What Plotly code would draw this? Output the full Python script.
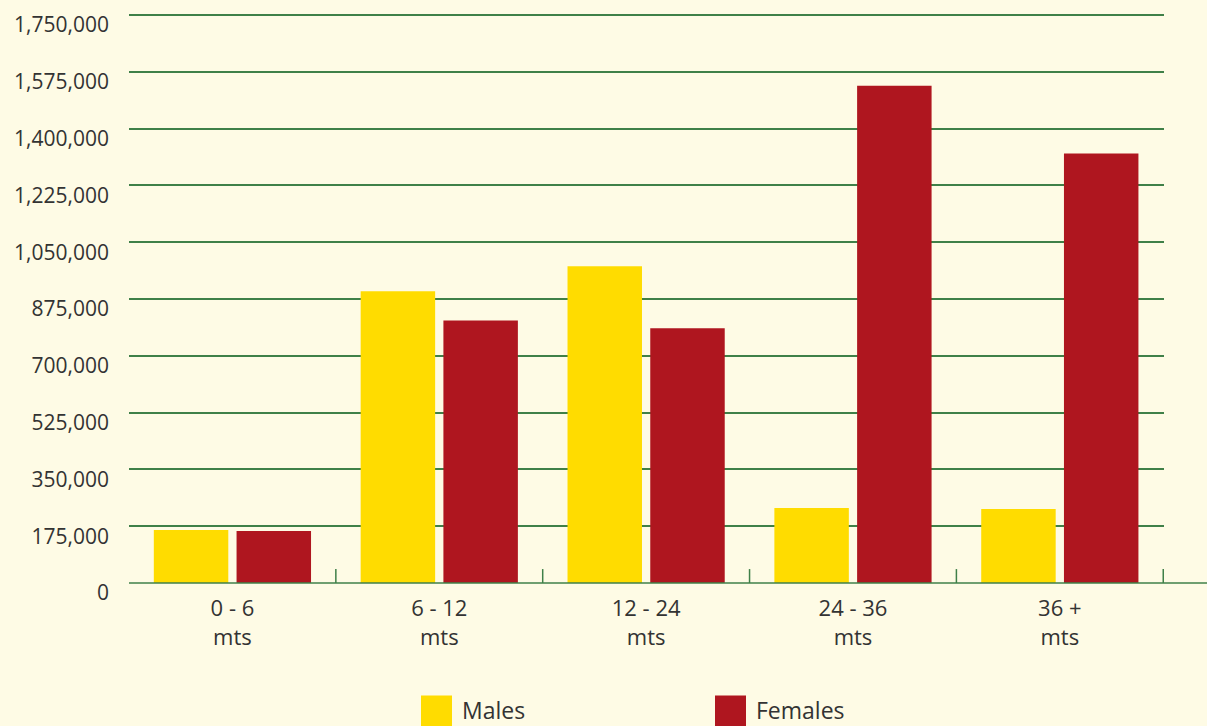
import plotly.graph_objects as go

categories = ["0 - 6<br>mts", "6 - 12<br>mts", "12 - 24<br>mts", "24 - 36<br>mts", "36 +<br>mts"]
males = [163000, 899000, 976000, 231000, 228000]
females = [160000, 809000, 785000, 1532000, 1323000]
series_names = ["Males", "Females"]
colors = ["#FFDC00", "#AF161F"]
tick_values = [0, 175000, 350000, 525000, 700000, 875000, 1050000, 1225000, 1400000, 1575000, 1750000]

BG = "#FEFBE5"
GRID = "#3F8048"
FONT = "Open Sans, Lato, sans-serif"
YMAX = 1750000

fig = go.Figure()
for name, vals, col in zip(series_names, [males, females], colors):
    fig.add_trace(go.Bar(x=categories, y=vals, name=name, marker=dict(color=col, line=dict(width=0)),
                         showlegend=False))

# category boundary ticks
shapes = []
for i in range(len(categories)):
    shapes.append(dict(type="line", xref="x", yref="paper", x0=i + 0.5, x1=i + 0.5, y0=0, y1=14 / 573,
                       line=dict(color=GRID, width=1.5)))
# extended axis line
shapes.append(dict(type="line", xref="paper", yref="paper", x0=0, x1=(1207 - 129) / (1164 - 129), y0=0, y1=0,
                   line=dict(color=GRID, width=1.5)))

# manual legend
annotations = []
leg_x = [421, 715]
for name, col, lx in zip(series_names, colors, leg_x):
    shapes.append(dict(type="rect", xref="paper", yref="paper",
                       x0=(lx - 129) / 1035, x1=(lx + 31 - 129) / 1035,
                       y0=(583 - 730) / 573, y1=(583 - 696) / 573,
                       fillcolor=col, line=dict(width=0)))
    annotations.append(dict(text=name, xref="paper", yref="paper", x=(lx + 39 - 129) / 1035,
                            y=(583 - 711) / 573, xanchor="left", yanchor="middle", showarrow=False,
                            font=dict(family=FONT, size=23, color="#333333")))

fig.update_layout(
    width=1207, height=726,
    margin=dict(l=129, r=43, t=10, b=143),
    paper_bgcolor=BG, plot_bgcolor=BG,
    barmode="group", bargap=0.2, bargroupgap=0.1,
    font=dict(family=FONT, size=21, color="#333333"),
    shapes=shapes, annotations=annotations,
    xaxis=dict(showgrid=False, showline=False, zeroline=False, ticks="",
               ticklabelstandoff=10,
               tickfont=dict(family=FONT, size=22, color="#333333")),
    yaxis=dict(range=[0, YMAX * 573 / 571], tickvals=tick_values, tickformat=",", showgrid=True,
               gridcolor=GRID, gridwidth=1.5, zeroline=False, showline=False, ticks="",
               ticklabelshift=10, ticklabelstandoff=19,
               tickfont=dict(family=FONT, size=21, color="#333333")),
)

fig.write_html("out.html", config={"displayModeBar": False},
               post_script="document.body.style.margin='0';document.body.style.overflow='hidden';")
